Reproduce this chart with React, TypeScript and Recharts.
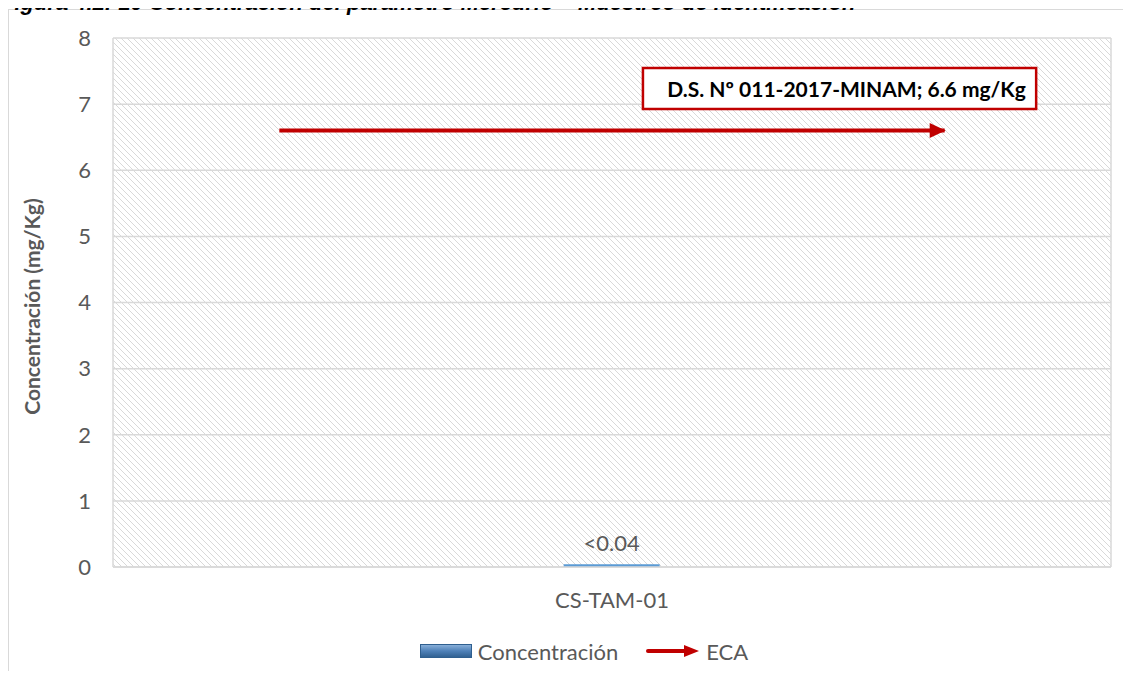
import React from 'react'
import {
	Bar,
	CartesianGrid,
	ComposedChart,
	LabelList,
	Legend,
	Line,
	ReferenceArea,
	XAxis,
	YAxis,
} from 'recharts'

const title =
	'Figura 4.2.-10 Concentración del parámetro Mercurio – Muestreo de identificación'
const categories = ['CS-TAM-01']
const concentracion = [0.04]
const concentracionLabels = ['<0.04']
// ECA sits on a secondary axis with three slots, the sample is in the middle one
const ecaValues = [6.6, 6.6, 6.6]
const yTicks = [0, 1, 2, 3, 4, 5, 6, 7, 8]
const bandEdges = [0, 1, 2, 3]
const annotationText = 'D.S. Nº 011-2017-MINAM; 6.6 mg/Kg'

const FONT = 'Lato, "Open Sans", sans-serif'
const TEXT = '#595959'
const GRID = '#d9d9d9'
const RED = '#c00000'

const slots = ecaValues.length
const chartData = ecaValues.map((eca, i) => {
	const catIndex = categories.findIndex(
		(_, c) => ((c + 0.5) * slots) / categories.length === i + 0.5,
	)
	return {
		x: i + 0.5,
		eca,
		conc: catIndex >= 0 ? concentracion[catIndex] : null,
		concLabel: catIndex >= 0 ? concentracionLabels[catIndex] : '',
	}
})

const ArrowDot = (props: any) => {
	const { cx, cy, index } = props
	if (index !== ecaValues.length - 1) return <g key={`d-${index}`} />
	return (
		<polygon
			key={`d-${index}`}
			points={`${cx - 15},${cy - 7.5} ${cx + 1},${cy} ${cx - 15},${cy + 7.5}`}
			fill={RED}
		/>
	)
}

const CustomLegend = () => (
	<div
		style={{
			display: 'flex',
			justifyContent: 'center',
			alignItems: 'center',
			height: 40,
			paddingLeft: 48,
			fontFamily: FONT,
			fontSize: 22,
			color: TEXT,
		}}
	>
		<svg width={52} height={14}>
			<defs>
				<linearGradient id="legBlue" x1="0" y1="0" x2="0" y2="1">
					<stop offset="0%" stopColor="#8db3dc" />
					<stop offset="50%" stopColor="#4f81b8" />
					<stop offset="100%" stopColor="#2f5f8f" />
				</linearGradient>
			</defs>
			<rect x={0.5} y={0.5} width={51} height={13} fill="url(#legBlue)" stroke="#2f5f8f" />
		</svg>
		<span style={{ marginLeft: 6 }}>Concentración</span>
		<svg width={54} height={16} style={{ marginLeft: 28 }}>
			<line x1={2} y1={8} x2={42} y2={8} stroke={RED} strokeWidth={4} strokeLinecap="round" />
			<polygon points="38,2 53,8 38,14" fill={RED} />
		</svg>
		<span style={{ marginLeft: 6 }}>ECA</span>
	</div>
)

export default function App() {
	return (
		<div style={{ position: 'relative' }}>
			<div
				style={{
					position: 'absolute',
					top: -17,
					left: -7,
					whiteSpace: 'nowrap',
					fontFamily: '"Liberation Sans", Arial, sans-serif',
					fontWeight: 700,
					fontStyle: 'italic',
					fontSize: 22,
					lineHeight: '22px',
					color: '#000',
				}}
			>
				{title}
			</div>
			<div
				style={{
					marginTop: 1,
					width: 1122,
					height: 661,
					borderTop: `1px solid ${GRID}`,
					borderLeft: `1px solid ${GRID}`,
				}}
			>
				<ComposedChart
					width={1114}
					height={661}
					data={chartData}
					margin={{ top: 28, right: 12, bottom: 0, left: 0 }}
				>
					<defs>
						<pattern id="hatch" patternUnits="userSpaceOnUse" width={6} height={6}>
							<rect width={6} height={6} fill="#ffffff" />
							<path
								d="M-1,-1 L7,7 M-1,5 L1,7 M5,-1 L7,1"
								stroke="#d9d9d9"
								strokeWidth={1}
							/>
						</pattern>
					</defs>
					<CartesianGrid
						fill="url(#hatch)"
						stroke={GRID}
						strokeWidth={1.5}
					/>
					<XAxis
						dataKey="x"
						type="number"
						domain={[0, 3]}
						ticks={bandEdges}
						height={10}
						tick={false}
						tickSize={7}
						tickLine={{ stroke: GRID, strokeWidth: 1.5 }}
						axisLine={{ stroke: GRID, strokeWidth: 1.5 }}
					/>
					<XAxis
						xAxisId="cat"
						dataKey="x"
						type="number"
						domain={[0, 3]}
						ticks={[1.5]}
						height={54}
						axisLine={false}
						tickLine={false}
						tickSize={0}
						tickMargin={15}
						tickFormatter={(v: number) =>
							categories[Math.floor((v * categories.length) / slots)]
						}
						tick={{ fill: TEXT, fontSize: 22, fontFamily: FONT }}
					/>
					<YAxis
						domain={[0, 8]}
						ticks={yTicks}
						width={104}
						axisLine={false}
						tickLine={false}
						tickSize={0}
						tickMargin={22}
						tick={{ fill: TEXT, fontSize: 22, fontFamily: FONT }}
						label={{
							content: (p: any) => {
								const vb = p.viewBox
								const cx = vb.x + 22
								const cy = vb.y + vb.height / 2 + 4
								return (
									<text
										x={cx}
										y={cy}
										transform={`rotate(-90 ${cx} ${cy})`}
										textAnchor="middle"
										dominantBaseline="central"
										fill={TEXT}
										fontFamily={FONT}
										fontSize={21}
										fontWeight={700}
									>
										Concentración (mg/Kg)
									</text>
								)
							},
						}}
					/>
					<ReferenceArea
						x1={1.593}
						x2={2.775}
						y1={6.926}
						y2={7.546}
						fill="#ffffff"
						fillOpacity={1}
						stroke={RED}
						strokeWidth={2.5}
						ifOverflow="visible"
						label={{
							content: (p: any) => {
								const vb = p.viewBox
								return (
									<text
										x={vb.x + vb.width / 2 + 7}
										y={vb.y + vb.height / 2}
										textAnchor="middle"
										dominantBaseline="central"
										fill="#000"
										fontFamily={FONT}
										fontSize={21}
										fontWeight={700}
									>
										{annotationText}
									</text>
								)
							},
						}}
					/>
					<Bar
						dataKey="conc"
						name="Concentración"
						barSize={96}
						fill="#5b9bd5"
						isAnimationActive={false}
					>
						<LabelList
							dataKey="concLabel"
							position="top"
							offset={13}
							fill={TEXT}
							fontSize={22}
							fontFamily={FONT}
						/>
					</Bar>
					<Line
						dataKey="eca"
						name="ECA"
						stroke={RED}
						strokeWidth={4}
						dot={ArrowDot}
						activeDot={false}
						isAnimationActive={false}
					/>
					<Legend verticalAlign="bottom" height={40} content={<CustomLegend />} />
				</ComposedChart>
			</div>
		</div>
	)
}
